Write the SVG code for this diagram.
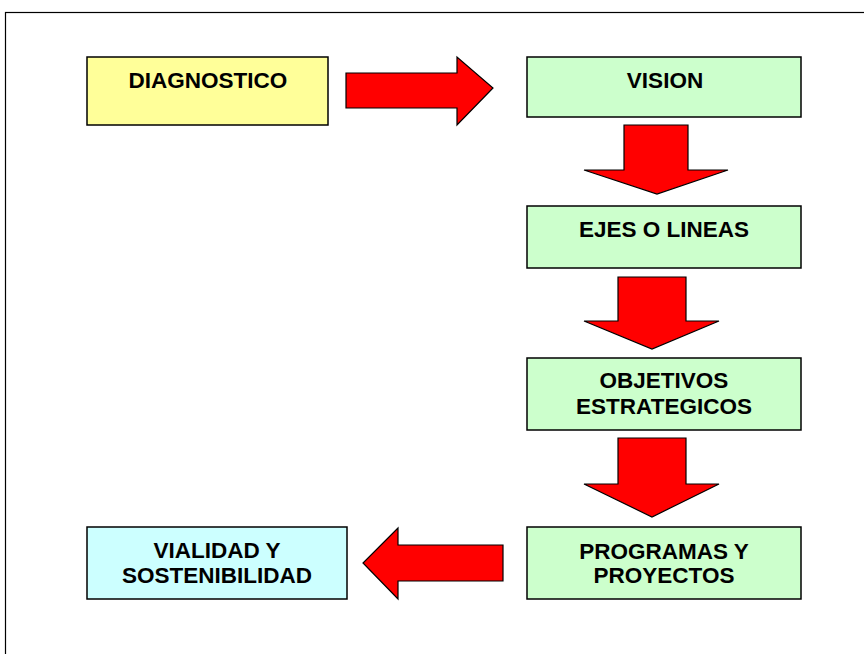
<svg xmlns="http://www.w3.org/2000/svg" width="864" height="654" viewBox="0 0 864 654">
<style>
.box{stroke:#000;stroke-width:1.5}
.arr{fill:#FF0000;stroke:#000;stroke-width:1.2;stroke-linejoin:miter}
.t{font-family:"Liberation Sans",Arial,sans-serif;font-weight:bold;font-size:22.5px;fill:#000;text-anchor:middle}
</style>
<rect width="864" height="654" fill="#fff"/>
<rect x="5.5" y="12.5" width="900" height="700" fill="none" stroke="#000" stroke-width="1.2"/>
<g id="connectors">
<polygon class="arr" points="346,73 457,73 457,57 493,88 457,125 457,108 346,108"/>
<polygon class="arr" points="624,125 688,125 688,170 728,170 657,194 584,170 624,170"/>
<polygon class="arr" points="618,277 686,277 686,321 719,321 652,349 584,321 618,321"/>
<polygon class="arr" points="618,438 686,438 686,484 719,484 652,517 584,484 618,484"/>
<polygon class="arr" points="503,545 398,545 398,528 363,563 398,599 398,581 503,581"/>
</g>
<g id="diagnostico">
<rect class="box" x="87" y="57" width="241" height="68" fill="#FFFF99"/>
<text class="t" x="208" y="88">DIAGNOSTICO</text>
</g>
<g id="vision">
<rect class="box" x="527" y="57" width="274" height="60" fill="#CCFFCC"/>
<text class="t" x="665" y="88">VISION</text>
</g>
<g id="ejes">
<rect class="box" x="527" y="206" width="274" height="62" fill="#CCFFCC"/>
<text class="t" x="664" y="237">EJES O LINEAS</text>
</g>
<g id="objetivos">
<rect class="box" x="527" y="358" width="274" height="72" fill="#CCFFCC"/>
<text class="t" x="664" y="388">OBJETIVOS</text>
<text class="t" x="664" y="414">ESTRATEGICOS</text>
</g>
<g id="programas">
<rect class="box" x="527" y="527" width="274" height="72" fill="#CCFFCC"/>
<text class="t" x="664" y="559">PROGRAMAS Y</text>
<text class="t" x="664" y="583">PROYECTOS</text>
</g>
<g id="vialidad">
<rect class="box" x="87" y="527" width="260" height="72" fill="#CCFFFF"/>
<text class="t" x="217" y="558">VIALIDAD Y</text>
<text class="t" x="217" y="583">SOSTENIBILIDAD</text>
</g>
</svg>
